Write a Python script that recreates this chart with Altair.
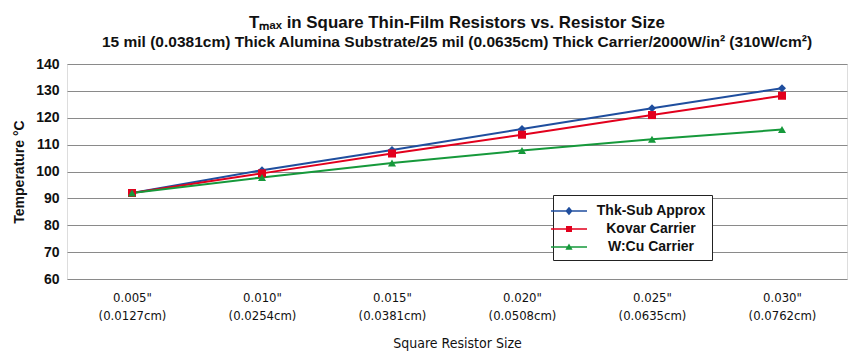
import altair as alt
import pandas as pd

sizes = ['0.005"|(0.0127cm)', '0.010"|(0.0254cm)', '0.015"|(0.0381cm)',
         '0.020"|(0.0508cm)', '0.025"|(0.0635cm)', '0.030"|(0.0762cm)']
series_names = ["Thk-Sub Approx", "Kovar Carrier", "W:Cu Carrier"]
thk_sub = [92.0, 100.5, 108.0, 115.8, 123.5, 131.0]
kovar = [92.0, 99.3, 106.7, 113.7, 121.0, 128.2]
wcu = [92.0, 97.8, 103.2, 107.8, 112.0, 115.6]
colors = ["#1f4e9e", "#e2001d", "#16993b"]
y_ticks = [60, 70, 80, 90, 100, 110, 120, 130, 140]

rows = []
for name, vals in zip(series_names, [thk_sub, kovar, wcu]):
    for s, v in zip(sizes, vals):
        rows.append({"size": s, "series": name, "temp": v})
df = pd.DataFrame(rows)

FONT = "Liberation Sans"
NARROW = "Liberation Sans Narrow, DejaVu Sans Condensed, Liberation Sans"

x_enc = alt.X("size:N", sort=sizes, title="Square Resistor Size",
              axis=alt.Axis(labelAngle=0, labelExpr="split(datum.label, '|')",
                            labelFont=NARROW, labelFontSize=13, labelFontWeight="normal",
                            labelLineHeight=18, labelPadding=12, ticks=False, domain=False,
                            grid=False, titleFont=NARROW, titleFontSize=14,
                            titleFontWeight="normal", titlePadding=14, labelColor="#111",
                            titleColor="#111"))
y_enc = alt.Y("temp:Q", title="Temperature °C",
              scale=alt.Scale(domain=[60, 140], nice=False),
              axis=alt.Axis(values=y_ticks, labelFont=FONT, labelFontSize=14,
                            labelFontWeight="bold", labelPadding=8, ticks=False,
                            domain=False, grid=True, gridColor="#8a8a8a", gridWidth=1.2,
                            titleFont=FONT, titleFontSize=14, titleFontWeight="bold",
                            titlePadding=9, labelColor="#111", titleColor="#111"))

lines = alt.Chart(df).mark_line(strokeWidth=2).encode(
    x=x_enc, y=y_enc,
    color=alt.Color("series:N", scale=alt.Scale(domain=series_names, range=colors), legend=None),
)
points = alt.Chart(df).mark_point(filled=True, opacity=1, size=65).encode(
    x=x_enc, y=y_enc,
    color=alt.Color("series:N", scale=alt.Scale(domain=series_names, range=colors), legend=None),
    shape=alt.Shape("series:N", scale=alt.Scale(domain=series_names,
                    range=["diamond", "square", "triangle-up"]), legend=None),
)

# legend symbol paths: line segment + marker (unit box [-1,1])
p_line = "M-1.8,-0.07H1.8V0.07H-1.8Z"
leg_paths = [
    p_line + "M0,-0.42L0.36,0L0,0.42L-0.36,0Z",
    p_line + "M-0.3,-0.3H0.3V0.3H-0.3Z",
    p_line + "M0,-0.36L0.36,0.28H-0.36Z",
]
leg = alt.Legend(orient="none", legendX=486, legendY=131,
                 symbolSize=400, symbolOpacity=1,
                 labelFont=FONT, labelFontSize=14, labelFontWeight="bold",
                 labelColor="#111", labelAlign="center", labelOffset=72,
                 rowPadding=1, padding=6,
                 fillColor="white", strokeColor="#222",
                 symbolStrokeWidth=0)
legend_layer = alt.Chart(df).mark_point(filled=True, opacity=0, size=1).encode(
    x=x_enc, y=y_enc,
    color=alt.Color("series:N", scale=alt.Scale(domain=series_names, range=colors),
                    title=None, legend=leg),
    shape=alt.Shape("series:N", scale=alt.Scale(domain=series_names, range=leg_paths),
                    title=None, legend=leg),
)

chart = alt.layer(lines, points, legend_layer).resolve_scale(
    color="independent", shape="independent"
).properties(
    width=780, height=215,
    padding={"left": 4, "top": 5, "right": 2, "bottom": 2},
    title=alt.TitleParams(
        text="Tₘₐₓ in Square Thin-Film Resistors vs. Resistor Size",
        subtitle="15 mil (0.0381cm) Thick Alumina Substrate/25 mil (0.0635cm) Thick Carrier/2000W/in² (310W/cm²)",
        font=FONT, fontSize=16.9, fontWeight="bold", color="#111",
        subtitleFont=FONT, subtitleFontSize=15.5, subtitleFontWeight="bold",
        subtitleColor="#111", subtitlePadding=3, anchor="middle", offset=6),
).configure_view(stroke="#111", strokeWidth=2).configure(background="white")

chart.save("out.html", embed_options={"renderer": "svg", "actions": False})
